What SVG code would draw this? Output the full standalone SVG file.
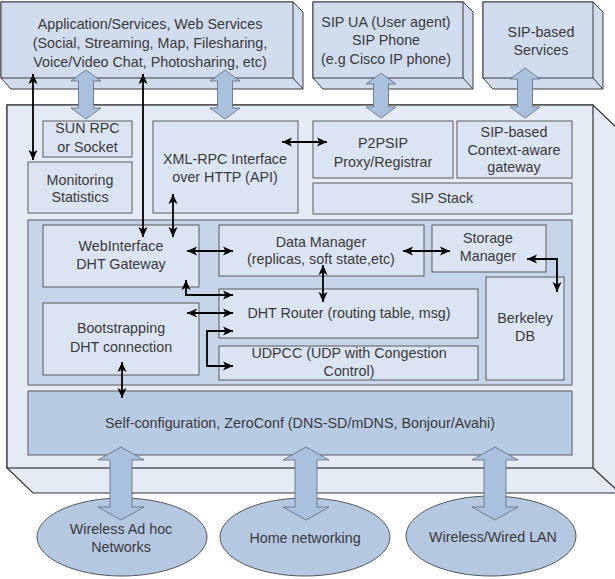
<svg xmlns="http://www.w3.org/2000/svg" width="615" height="579" viewBox="0 0 615 579">
<defs>
<marker id="ah" markerUnits="userSpaceOnUse" markerWidth="11" markerHeight="10" refX="10" refY="5" orient="auto-start-reverse">
<path d="M0,0.5 L10,5 L0,9.5 L2.5,5 z" fill="#000"/>
</marker>
</defs>
<style>
.t{font-family:"Liberation Sans",Arial,sans-serif;font-size:14.3px;fill:#3a3a3a;text-anchor:middle}
.top{fill:#d1dcee;stroke:#3c3c3c;stroke-width:1}
.mid{fill:#e5ebf5;stroke:#333;stroke-width:1.2}
.box{fill:#dbe4f2;stroke:#5a5a5a;stroke-width:1}
.dht{fill:#c7d5ea;stroke:#5a5a5a;stroke-width:1}
.cfg{fill:#b8cbe4;stroke:#5a5a5a;stroke-width:1}
.ell{fill:#b5c8e2;stroke:#555;stroke-width:1}
.blk{fill:#a9c0df;stroke:#5f6b7a;stroke-width:0.8}
.ln{fill:none;stroke:#000;stroke-width:1.8;marker-start:url(#ah);marker-end:url(#ah)}
.ln1{fill:none;stroke:#000;stroke-width:1.8;marker-end:url(#ah)}
</style>

<g id="app">
<polygon class="top" points="1,2 293,2 303,12 303,89 11,89 1,78"/>
<rect class="top" x="1" y="2" width="292" height="76"/>
<line x1="293" y1="78" x2="303" y2="89" stroke="#3c3c3c"/>
<text class="t" x="150" y="29">Application/Services, Web Services</text>
<text class="t" x="150" y="48">(Social, Streaming, Map, Filesharing,</text>
<text class="t" x="150" y="67">Voice/Video Chat, Photosharing, etc)</text>
</g>

<g id="sipua">
<polygon class="top" points="313,2 463,2 473,12 473,89 323,89 313,78"/>
<rect class="top" x="313" y="2" width="150" height="76"/>
<line x1="463" y1="78" x2="473" y2="89" stroke="#3c3c3c"/>
<text class="t" x="386" y="27">SIP UA (User agent)</text>
<text class="t" x="386" y="45">SIP Phone</text>
<text class="t" x="386" y="64">(e.g Cisco IP phone)</text>
</g>

<g id="sipservices">
<polygon class="top" points="483,2 593,2 603,12 603,89 493,89 483,78"/>
<rect class="top" x="483" y="2" width="110" height="76"/>
<line x1="593" y1="78" x2="603" y2="89" stroke="#3c3c3c"/>
<text class="t" x="541" y="37">SIP-based</text>
<text class="t" x="541" y="55">Services</text>
</g>

<g id="middle">
<polygon class="mid" points="7,105 593,105 620,131 620,493 33,493 7,468"/>
<rect class="mid" x="7" y="105" width="586" height="363"/>
<line x1="593" y1="468" x2="620" y2="493" stroke="#333" stroke-width="1.2"/>
</g>

<g id="sunrpc">
<rect class="box" x="43" y="121" width="89" height="36"/>
<text class="t" x="87.5" y="133">SUN RPC</text>
<text class="t" x="87.5" y="152">or Socket</text>
</g>

<g id="monitoring">
<rect class="box" x="28" y="162" width="104" height="51"/>
<text class="t" x="80" y="185">Monitoring</text>
<text class="t" x="80" y="202">Statistics</text>
</g>

<g id="xmlrpc">
<rect class="box" x="153" y="121" width="145" height="92"/>
<text class="t" x="225" y="164">XML-RPC Interface</text>
<text class="t" x="225" y="182">over HTTP (API)</text>
</g>

<g id="p2psip">
<rect class="box" x="313" y="121" width="140" height="57"/>
<text class="t" x="383" y="148">P2PSIP</text>
<text class="t" x="383" y="167">Proxy/Registrar</text>
</g>

<g id="contextgw">
<rect class="box" x="457" y="121" width="115" height="57"/>
<text class="t" x="514" y="137">SIP-based</text>
<text class="t" x="514" y="155">Context-aware</text>
<text class="t" x="514" y="172">gateway</text>
</g>

<g id="sipstack">
<rect class="box" x="313" y="183" width="259" height="31"/>
<text class="t" x="442" y="203">SIP Stack</text>
</g>

<g id="dht">
<rect class="dht" x="28" y="220" width="544" height="165"/>
</g>

<g id="webif">
<rect class="box" x="43" y="225" width="156" height="62"/>
<text class="t" x="121" y="251">WebInterface</text>
<text class="t" x="121" y="269">DHT Gateway</text>
</g>

<g id="datamgr">
<rect class="box" x="219" y="225" width="205" height="51"/>
<text class="t" x="321" y="247">Data Manager</text>
<text class="t" x="321" y="264">(replicas, soft state,etc)</text>
</g>

<g id="storage">
<rect class="box" x="432" y="225" width="114" height="47"/>
<text class="t" x="488" y="243">Storage</text>
<text class="t" x="488" y="261">Manager</text>
</g>

<g id="berkeley">
<rect class="box" x="486" y="277" width="78" height="103"/>
<text class="t" x="525" y="323">Berkeley</text>
<text class="t" x="525" y="341">DB</text>
</g>

<g id="router">
<rect class="box" x="219" y="289" width="259" height="49"/>
<text class="t" x="349" y="318">DHT Router (routing table, msg)</text>
</g>

<g id="udpcc">
<rect class="box" x="219" y="346" width="259" height="34"/>
<text class="t" x="349" y="358">UDPCC (UDP with Congestion</text>
<text class="t" x="349" y="376">Control)</text>
</g>

<g id="bootstrap">
<rect class="box" x="43" y="303" width="156" height="72"/>
<text class="t" x="121" y="333">Bootstrapping</text>
<text class="t" x="121" y="352">DHT connection</text>
</g>

<g id="selfconfig">
<rect class="cfg" x="28" y="391" width="544" height="64"/>
<text class="t" x="300" y="428">Self-configuration, ZeroConf (DNS-SD/mDNS, Bonjour/Avahi)</text>
</g>

<g id="adhoc">
<ellipse class="ell" cx="122" cy="537" rx="85" ry="39"/>
<text class="t" x="121" y="534">Wireless Ad hoc</text>
<text class="t" x="121" y="552">Networks</text>
</g>

<g id="home">
<ellipse class="ell" cx="305" cy="537" rx="85" ry="39"/>
<text class="t" x="305" y="543">Home networking</text>
</g>

<g id="lan">
<ellipse class="ell" cx="491" cy="536" rx="85" ry="40"/>
<text class="t" x="493" y="542">Wireless/Wired LAN</text>
</g>

<g id="connectors">
<!-- block arrows top -->
<polygon class="blk" points="86,70 101,81 93.5,81 93.5,108 101,108 86,119 71,108 78.5,108 78.5,81 71,81"/>
<polygon class="blk" points="225,70 240,81 232.5,81 232.5,108 240,108 225,119 210,108 217.5,108 217.5,81 210,81"/>
<polygon class="blk" points="381,73 396,84 388.5,84 388.5,107 396,107 381,118 366,107 373.5,107 373.5,84 366,84"/>
<polygon class="blk" points="525,68 540,79 532.5,79 532.5,107 540,107 525,118 510,107 517.5,107 517.5,79 510,79"/>
<!-- block arrows bottom -->
<polygon class="blk" points="121,447 144,460 132,460 132,507 144,507 121,520 98,507 110,507 110,460 98,460"/>
<polygon class="blk" points="306,447 329,460 317,460 317,507 329,507 306,520 283,507 295,507 295,460 283,460"/>
<polygon class="blk" points="495,447 518,460 506,460 506,507 518,507 495,520 472,507 484,507 484,460 472,460"/>
<!-- thin arrows -->
<line class="ln" x1="33" y1="74" x2="33" y2="160"/>
<line class="ln" x1="143" y1="74" x2="143" y2="237"/>
<line class="ln" x1="282" y1="142" x2="327" y2="142"/>
<line class="ln" x1="173" y1="194" x2="173" y2="237"/>
<line class="ln" x1="187" y1="251" x2="233" y2="251"/>
<polyline class="ln" points="186,280 186,295 233,295"/>
<line class="ln" x1="187" y1="313" x2="233" y2="313"/>
<polyline class="ln" points="233,331 207,331 207,366 233,366"/>
<line class="ln" x1="323" y1="265" x2="323" y2="302"/>
<line class="ln" x1="403" y1="251" x2="450" y2="251"/>
<polyline class="ln" points="527,259 557,259 557,292"/>
<line class="ln" x1="122" y1="362" x2="122" y2="398"/>
</g>
</svg>
